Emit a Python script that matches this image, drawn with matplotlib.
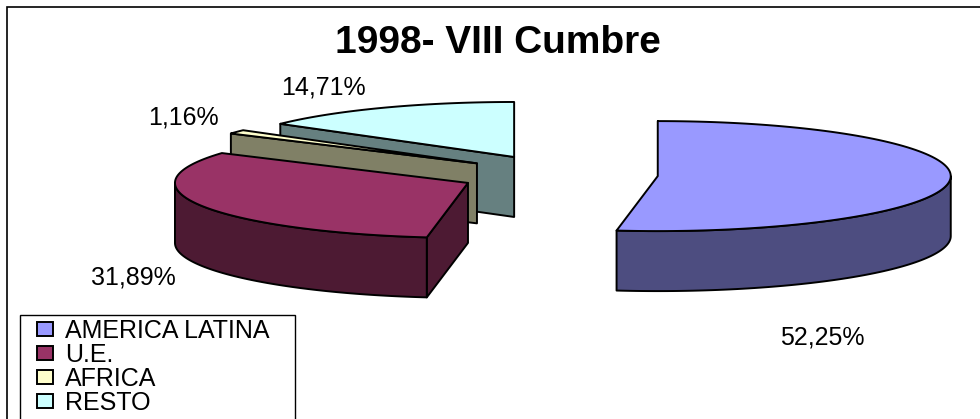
import numpy as np
import matplotlib
matplotlib.use('Agg')
import matplotlib.pyplot as plt
from matplotlib.patches import Patch, Polygon, Rectangle

plt.rcParams['font.family'] = ['Liberation Sans', 'DejaVu Sans']

categories = ["AMERICA LATINA", "U.E.", "AFRICA", "RESTO"]
values = [52.25, 31.89, 1.16, 14.71]
labels = ["52,25%", "31,89%", "1,16%", "14,71%"]
top_colors = ['#9999FF', '#993366', '#FFFFCC', '#CCFFFF']
side_colors = ['#4D4D80', '#4D1A33', '#808066', '#668080']
label_pos = [(822, 337), (133, 277), (183, 117), (323, 88)]

# pie geometry in pixels
cx, cy = 558.5, 174.7
rx, ry = 293, 55
depth = 60
explode_x, explode_y = 99.5, 19.8


def rim(x0, y0, angles):
    a = np.radians(angles)
    return np.column_stack([x0 + rx * np.sin(a), y0 - ry * np.cos(a)])


def draw_slice(ax, start, end, top, side):
    mid = np.radians((start + end) / 2)
    x0 = cx + explode_x * np.sin(mid)
    y0 = cy - explode_y * np.cos(mid)
    down = np.array([0, depth])
    apex = np.array([[x0, y0]])

    # wall along the first radius
    p = rim(x0, y0, [start])
    wall = np.vstack([apex, p, p + down, apex + down])
    ax.add_patch(Polygon(wall, fc=side, ec='black', lw=1.4, joinstyle='round'))

    # curved front wall
    lo, hi = max(start, 90), min(end, 270)
    if lo < hi:
        arc = rim(x0, y0, np.linspace(lo, hi, 80))
        front = np.vstack([arc, arc[::-1] + down])
        ax.add_patch(Polygon(front, fc=side, ec='black', lw=1.4, joinstyle='round'))

    arc = rim(x0, y0, np.linspace(start, end, 120))
    ax.add_patch(Polygon(np.vstack([apex, arc]), fc=top, ec='black', lw=1.4, joinstyle='round'))


fig = plt.figure(figsize=(9.8, 4.19), dpi=100)
ax = fig.add_axes([0, 0, 1, 1])
ax.set_xlim(0, 980)
ax.set_ylim(419, 0)
ax.axis('off')

# chart frame, runs off the right and bottom of the picture
ax.add_patch(Rectangle((7, 7), 1000, 450, fc='white', ec='black', lw=1.2))

ends = np.cumsum(values) / sum(values) * 360
starts = np.concatenate([[0], ends[:-1]])
for i in range(len(values) - 1, -1, -1):
    draw_slice(ax, starts[i], ends[i], top_colors[i], side_colors[i])

for txt, (x, y) in zip(labels, label_pos):
    ax.text(x, y, txt, fontsize=18, ha='center', va='center', color='black')

ax.text(498, 43, "1998- VIII Cumbre", fontsize=28, fontweight='bold', ha='center', va='center')

# legend box is cut off by the bottom edge too
ax.add_patch(Rectangle((20, 315), 275, 150, fc='white', ec='black', lw=1.0))
handles = [Patch(fc=c, ec='black', lw=1.4) for c in top_colors]
ax.legend(handles, categories, loc='upper left',
          bbox_to_anchor=(37 / 980, 1 - 319 / 419), frameon=False,
          fontsize=18, borderaxespad=0, borderpad=0, labelspacing=0.0,
          handlelength=0.64, handleheight=0.44, handletextpad=0.47)

fig.savefig('out.png', dpi=100)
